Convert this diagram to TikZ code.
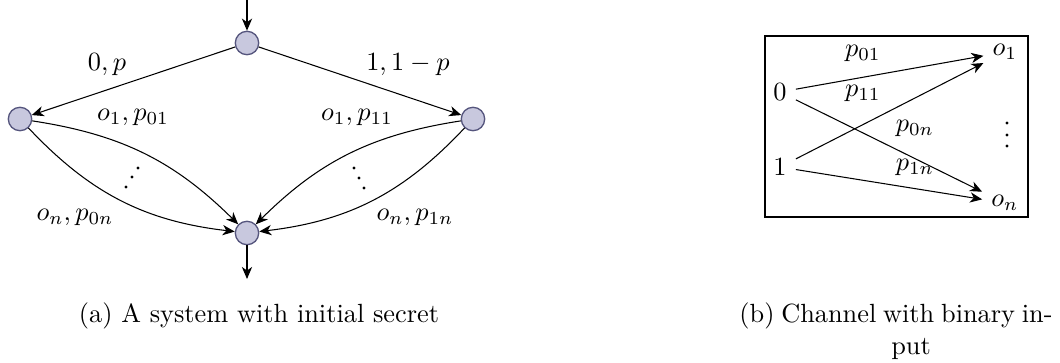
\documentclass[tikz,border=0pt]{standalone}
\usetikzlibrary{arrows.meta}
\definecolor{statefill}{RGB}{200,200,222}
\definecolor{statedraw}{RGB}{85,85,125}
\begin{document}
\begin{tikzpicture}[x=0.38pt,y=-0.38pt,
  state/.style={circle,draw=statedraw,fill=statefill,minimum size=8.9pt,inner sep=0pt,line width=0.5pt},
  arr/.style={-{Stealth[length=4.6pt,width=3.9pt,inset=1.4pt]},line width=0.4pt},
  dotfill/.style={fill=black},
  captext/.style={anchor=base,inner sep=0pt}]
\useasboundingbox (0,0) rectangle (1060,362);
% ---- (a) system ----
\node[state] (top) at (247,43) {};
\node[state] (L) at (20,119) {};
\node[state] (R) at (473,119) {};
\node[state] (bot) at (247,233) {};
\coordinate (in) at (247,0);
\coordinate (out) at (247,279);
\draw[arr] (in) -- (top);
\draw[arr] (bot) -- (out);
\draw[arr] (top) -- (L);
\draw[arr] (top) -- (R);
\draw[arr] (L) to[bend left=18] (bot);
\draw[arr] (L) to[bend right=20] (bot);
\draw[arr] (R) to[bend right=18] (bot);
\draw[arr] (R) to[bend left=20] (bot);
\node (l0p) at (107,65) {$0,p$};
\node (l1p) at (408,65) {$1,1-p$};
\node (lo01) at (133,117) {$o_1,p_{01}$};
\node (lo11) at (357,117) {$o_1,p_{11}$};
\node (lon0) at (75,217) {$o_n,p_{0n}$};
\node (lon1) at (415,217) {$o_n,p_{1n}$};
\fill[dotfill] (138,168) circle[radius=0.6pt] (132,177) circle[radius=0.6pt] (126,187) circle[radius=0.6pt];
\fill[dotfill] (354,168) circle[radius=0.6pt] (359,178) circle[radius=0.6pt] (364,188) circle[radius=0.6pt];
% ---- (b) channel ----
\node[draw,line width=0.45pt,minimum width=99.9pt,minimum height=68.8pt,inner sep=0pt] (frame) at (896.5,126.5) {};
\node (i0) at (780,92) {$0$};
\node (i1) at (780,167) {$1$};
\node (o1) at (1005,52) {$o_1$};
\node (on) at (1005,203) {$o_n$};
\draw[arr] (i0) -- (o1);
\draw[arr] (i0) -- (on);
\draw[arr] (i1) -- (o1);
\draw[arr] (i1) -- (on);
\node (p01) at (863,53) {$p_{01}$};
\node (p11) at (863,93) {$p_{11}$};
\node (p0n) at (915,128) {$p_{0n}$};
\node (p1n) at (915,167) {$p_{1n}$};
\fill[dotfill] (1007,123) circle[radius=0.6pt] (1007,135) circle[radius=0.6pt] (1007,146) circle[radius=0.6pt];
% ---- captions ----
\node[captext] (capa) at (259,322) {(a) A system with initial secret};
\node[captext] (capb) at (896,322) {\makebox[119pt][s]{(b) Channel with binary in-}};
\node[captext] (capb2) at (911,354) {put};
\end{tikzpicture}
\end{document}
